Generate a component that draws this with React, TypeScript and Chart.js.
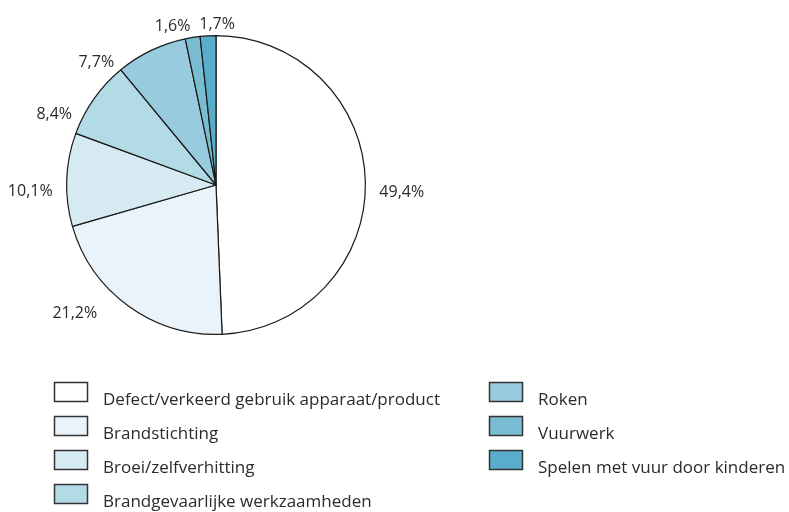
import React, { useEffect, useRef } from "react";
import { Chart, registerables } from "chart.js";

Chart.register(...registerables);

const categories = [
  "Defect/verkeerd gebruik apparaat/product",
  "Brandstichting",
  "Broei/zelfverhitting",
  "Brandgevaarlijke werkzaamheden",
  "Roken",
  "Vuurwerk",
  "Spelen met vuur door kinderen",
];
const percentages = [49.4, 21.2, 10.1, 8.4, 7.7, 1.6, 1.7];
const sliceColors = ["#ffffff", "#eaf3f9", "#d5eaf1", "#b3dbe5", "#97cbdd", "#7abdd3", "#5aadca"];

const FONT = "'Open Sans', 'Noto Sans', sans-serif";
const TEXT = "#2b2b2b";

const labelPlugin = {
  id: "sliceLabels",
  afterDatasetsDraw(chart: any) {
    const ctx = chart.ctx as CanvasRenderingContext2D;
    const meta = chart.getDatasetMeta(0);
    const vals = chart.data.datasets[0].data as number[];
    ctx.save();
    ctx.font = `16px ${FONT}`;
    ctx.fillStyle = TEXT;
    meta.data.forEach((arc: any, i: number) => {
      const p = arc.getProps(["x", "y", "startAngle", "endAngle", "outerRadius"], true);
      let mid = (p.startAngle + p.endAngle) / 2;
      // spread crowded left-side labels toward the horizontal
      if (Math.cos(mid) < -0.2) {
        let a = mid;
        while (a < 0) a += Math.PI * 2;
        mid = Math.PI + (a - Math.PI) * 0.8;
      }
      const dx = Math.cos(mid);
      const dy = Math.sin(mid);
      const txt = vals[i].toFixed(1).replace(".", ",") + "%";
      const w = ctx.measureText(txt).width;
      const h = 16;
      const r = p.outerRadius + 14;
      let cx = p.x + dx * r;
      let cy = p.y + dy * r;
      if (Math.abs(dx) < 0.1) {
        cx += w / 2 - 8;
      } else {
        cx += Math.sign(dx) * w / 2;
      }
      cy += (dy + 1) * h / 2 + 3;
      ctx.textAlign = "center";
      ctx.textBaseline = "middle";
      ctx.fillText(txt, cx, cy);
    });
    ctx.restore();
  },
};

const legendPlugin = {
  id: "customLegend",
  afterDraw(chart: any) {
    const ctx = chart.ctx as CanvasRenderingContext2D;
    const labels = chart.data.labels as string[];
    const colors = chart.data.datasets[0].backgroundColor as string[];
    const perCol = 4;
    const colX = [54, 489];
    const top = 382;
    const rowH = 34;
    const boxW = 33;
    const boxH = 19;
    ctx.save();
    ctx.font = `17px ${FONT}`;
    labels.forEach((lab, i) => {
      const col = Math.floor(i / perCol);
      const row = i % perCol;
      const x = colX[col];
      const y = top + row * rowH;
      ctx.fillStyle = colors[i];
      ctx.fillRect(x, y, boxW, boxH);
      ctx.strokeStyle = "#333333";
      ctx.lineWidth = 1.5;
      ctx.strokeRect(x + 0.5, y + 0.5, boxW, boxH);
      ctx.fillStyle = TEXT;
      ctx.textAlign = "left";
      ctx.textBaseline = "middle";
      ctx.fillText(lab, x + boxW + 16, y + boxH / 2 + 9);
    });
    ctx.restore();
  },
};

export default function App() {
  const ref = useRef<HTMLCanvasElement | null>(null);
  useEffect(() => {
    if (!ref.current) return;
    const chart = new Chart(ref.current, {
      type: "pie",
      data: {
        labels: categories,
        datasets: [
          {
            data: percentages,
            backgroundColor: sliceColors,
            borderColor: "#1a1a1a",
            borderWidth: 1.2,
          },
        ],
      },
      options: {
        responsive: false,
        animation: false,
        devicePixelRatio: 1,
        layout: { padding: { left: 66, top: 35, right: 423, bottom: 177 } },
        plugins: {
          legend: { display: false },
          tooltip: { enabled: false },
        },
      },
      plugins: [labelPlugin, legendPlugin],
    });
    return () => chart.destroy();
  }, []);
  return (
    <div style={{ position: "absolute", left: 0, top: 0, width: 789, height: 512, background: "#fff" }}>
      <canvas ref={ref} width={789} height={512} />
    </div>
  );
}
